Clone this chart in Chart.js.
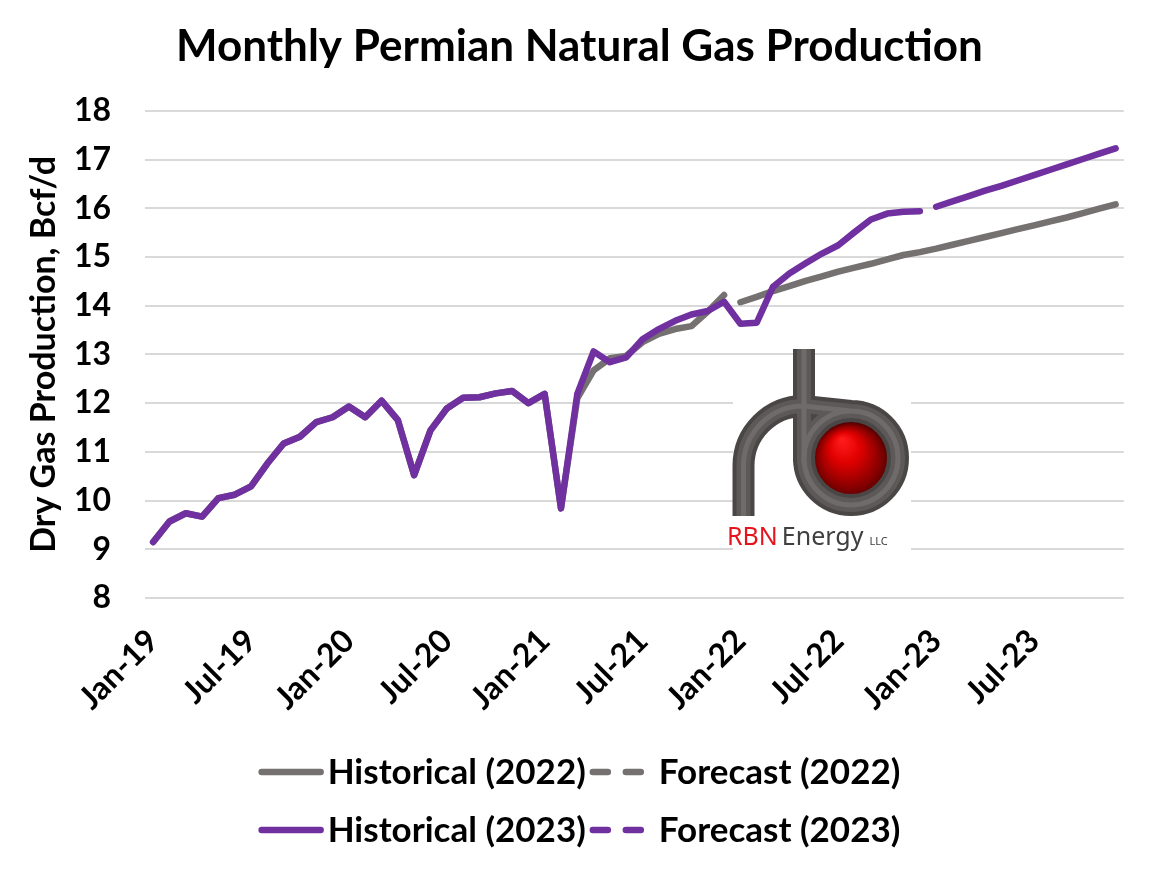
<!DOCTYPE html>
<html>
<head>
<meta charset="utf-8">
<script src="https://cdn.jsdelivr.net/npm/chart.js@4.4.1/dist/chart.umd.min.js"></script>
<style>
html,body{margin:0;padding:0;background:#ffffff;}
#wrap{width:1159px;height:871px;position:relative;}
</style>
</head>
<body>
<div id="wrap"><canvas id="c" width="1159" height="871"></canvas></div>
<script>
// ---------- DATA ----------
const categories = [
  'Jan-19','Feb-19','Mar-19','Apr-19','May-19','Jun-19','Jul-19','Aug-19','Sep-19','Oct-19','Nov-19','Dec-19',
  'Jan-20','Feb-20','Mar-20','Apr-20','May-20','Jun-20','Jul-20','Aug-20','Sep-20','Oct-20','Nov-20','Dec-20',
  'Jan-21','Feb-21','Mar-21','Apr-21','May-21','Jun-21','Jul-21','Aug-21','Sep-21','Oct-21','Nov-21','Dec-21',
  'Jan-22','Feb-22','Mar-22','Apr-22','May-22','Jun-22','Jul-22','Aug-22','Sep-22','Oct-22','Nov-22','Dec-22',
  'Jan-23','Feb-23','Mar-23','Apr-23','May-23','Jun-23','Jul-23','Aug-23','Sep-23','Oct-23','Nov-23','Dec-23'
];
const tickLabels = ['Jan-19','Jul-19','Jan-20','Jul-20','Jan-21','Jul-21','Jan-22','Jul-22','Jan-23','Jul-23'];

// Historical (2022 vintage): Jan-19 .. Dec-21
const historical2022 = [
  9.15, 9.57, 9.74, 9.67, 10.05, 10.12, 10.29, 10.76, 11.17, 11.31, 11.61, 11.71,
  11.93, 11.71, 12.05, 11.65, 10.52, 11.44, 11.89, 12.11, 12.12, 12.20, 12.25, 12.00,
  12.19, 9.84, 12.10, 12.67, 12.92, 12.97, 13.25, 13.42, 13.52, 13.58, 13.88, 14.22
];
// Forecast (2022 vintage): Jan-22 .. Dec-23
const forecast2022 = [
  14.07, 14.18, 14.30, 14.40, 14.51, 14.60, 14.70, 14.78, 14.86, 14.95, 15.04, 15.10,
  15.17, 15.25, 15.33, 15.41, 15.49, 15.57, 15.65, 15.73, 15.81, 15.90, 15.99, 16.08
];
// Historical (2023 vintage): Jan-19 .. Dec-22
const historical2023 = [
  9.15, 9.57, 9.74, 9.67, 10.05, 10.12, 10.29, 10.76, 11.17, 11.31, 11.61, 11.71,
  11.93, 11.71, 12.05, 11.65, 10.52, 11.44, 11.89, 12.11, 12.12, 12.20, 12.25, 12.00,
  12.19, 9.84, 12.19, 13.06, 12.84, 12.94, 13.31, 13.52, 13.69, 13.82, 13.89, 14.08,
  13.63, 13.65, 14.39, 14.66, 14.87, 15.07, 15.24, 15.51, 15.77, 15.89, 15.93, 15.94
];
// Forecast (2023 vintage): Jan-23 .. Dec-23
const forecast2023 = [
  16.03, 16.14, 16.25, 16.36, 16.46, 16.57, 16.68, 16.79, 16.90, 17.01, 17.12, 17.23
];
const seriesLabels = ['Historical (2022)', 'Forecast (2022)', 'Historical (2023)', 'Forecast (2023)'];
const yMin = 8, yMax = 18, yStep = 1;

// ---------- helpers ----------
const GRAY = '#767171';
const PURPLE = '#7030A0';
const FONT = 'Lato';
function nulls(n){ return new Array(n).fill(null); }
const N = categories.length;

// ---------- custom legend (2 x 2 grid, like the original) ----------
const gridLegend = {
  id: 'gridLegend',
  afterDraw(chart) {
    const ctx = chart.ctx;
    const ds = chart.data.datasets;
    const rows = [[0, 1], [2, 3]];
    const rowY = [772, 830];
    const sample = 65, gap = 4;
    ctx.save();
    ctx.font = 'bold 35px ' + FONT;
    const w0 = Math.max(...rows.map(r => ctx.measureText(ds[r[0]].label).width));
    const w1 = Math.max(...rows.map(r => ctx.measureText(ds[r[1]].label).width));
    const total = sample + gap + w0 + gap + sample + gap + w1;
    const x0 = chart.width / 2 - total / 2;
    const xs = [x0, x0 + sample + gap + w0 + gap];
    rows.forEach((r, ri) => {
      r.forEach((di, ci) => {
        const d = ds[di];
        const x = xs[ci], y = rowY[ri];
        ctx.beginPath();
        ctx.lineWidth = 6.5;
        ctx.lineCap = 'round';
        ctx.strokeStyle = d.borderColor;
        ctx.setLineDash(d.legendDash || []);
        ctx.moveTo(x + 3, y);
        ctx.lineTo(x + sample - 3, y);
        ctx.stroke();
        ctx.setLineDash([]);
        ctx.fillStyle = '#000000';
        ctx.textBaseline = 'alphabetic';
        ctx.textAlign = 'left';
        ctx.fillText(d.label, x + sample + gap, y + 12);
      });
    });
    ctx.restore();
  }
};

// ---------- logo (decoration) ----------
const logoPlugin = {
  id: 'rbnLogo',
  beforeDatasetsDraw(chart) {
    const ctx = chart.ctx;
    ctx.save();
    ctx.fillStyle = '#ffffff';
    ctx.fillRect(733, 380, 178, 175);
    const cx = 851, cy = 458, r = 47;
    // red sphere
    const g = ctx.createRadialGradient(842, 440, 2, cx, cy + 4, 40);
    g.addColorStop(0, '#ff1a1a');
    g.addColorStop(0.35, '#e00000');
    g.addColorStop(0.75, '#8a0000');
    g.addColorStop(1, '#4a0000');
    ctx.fillStyle = g;
    ctx.beginPath(); ctx.arc(cx, cy, 38, 0, Math.PI * 2); ctx.fill();
    // pipes
    const pipe = (w, col) => {
      ctx.lineWidth = w; ctx.strokeStyle = col; ctx.lineCap = 'butt'; ctx.lineJoin = 'round';
      ctx.beginPath();
      ctx.moveTo(743.5, 516); ctx.lineTo(743.5, 466);
      ctx.arc(803.5, 466, 60, Math.PI, Math.PI * 1.5);
      ctx.lineTo(cx, cy - r);
      ctx.arc(cx, cy, r, -Math.PI / 2, Math.PI * 1.5);
      ctx.stroke();
      ctx.beginPath(); ctx.moveTo(cx - r, 349); ctx.lineTo(cx - r, cy + 4); ctx.stroke();
    };
    pipe(22, '#4a4646');
    pipe(14, '#5d5959');
    pipe(5, '#6f6b6b');
    // text
    ctx.textBaseline = 'alphabetic'; ctx.textAlign = 'left';
    ctx.font = '25px "Noto Sans"';
    ctx.fillStyle = '#e3141b';
    ctx.fillText('RBN', 727, 545);
    let x = 727 + ctx.measureText('RBN').width + 4;
    ctx.fillStyle = '#404040';
    ctx.fillText('Energy', x, 545);
    x += ctx.measureText('Energy').width + 6;
    ctx.font = '11px "Noto Sans"';
    ctx.fillText('LLC', x, 545);
    ctx.restore();
  }
};

Chart.defaults.font.family = FONT;
Chart.defaults.color = '#000000';

new Chart(document.getElementById('c'), {
  type: 'line',
  data: {
    labels: categories,
    datasets: [
      { label: seriesLabels[0], data: historical2022.concat(nulls(N - historical2022.length)),
        borderColor: GRAY, order: 2, legendDash: [] },
      { label: seriesLabels[1], data: nulls(N - forecast2022.length).concat(forecast2022),
        borderColor: GRAY, order: 2, legendDash: [15, 18] },
      { label: seriesLabels[2], data: historical2023.concat(nulls(N - historical2023.length)),
        borderColor: PURPLE, order: 1, legendDash: [] },
      { label: seriesLabels[3], data: nulls(N - forecast2023.length).concat(forecast2023),
        borderColor: PURPLE, order: 1, legendDash: [15, 18] }
    ]
  },
  options: {
    responsive: false,
    animation: false,
    devicePixelRatio: 1,
    layout: { padding: { left: 0, right: 0, top: 0, bottom: 153 } },
    elements: {
      line: { borderWidth: 6.5, borderCapStyle: 'round', borderJoinStyle: 'round', tension: 0, fill: false },
      point: { radius: 0, hoverRadius: 0 }
    },
    plugins: {
      legend: { display: false },
      tooltip: { enabled: false },
      title: {
        display: true,
        text: 'Monthly Permian Natural Gas Production',
        color: '#000000',
        font: { size: 44, weight: 'bold', family: FONT },
        padding: { top: 20, bottom: 38 }
      }
    },
    scales: {
      x: {
        type: 'category',
        offset: true,
        grid: { display: false },
        border: { display: false },
        ticks: {
          autoSkip: false,
          maxRotation: 45,
          minRotation: 45,
          padding: 16,
          color: '#000000',
          font: { size: 32, weight: 'bold', family: FONT },
          callback: function(value, index) {
            const l = categories[index];
            return tickLabels.includes(l) ? l : '';
          }
        },
        afterFit(scale) { scale.height = 120; }
      },
      y: {
        min: yMin, max: yMax,
        grid: { color: '#d9d9d9', lineWidth: 2, drawTicks: false },
        border: { display: false },
        ticks: {
          stepSize: yStep,
          padding: 34,
          color: '#000000',
          font: { size: 32, weight: 'bold', family: FONT }
        },
        title: {
          display: true,
          text: 'Dry Gas Production, Bcf/d',
          color: '#000000',
          font: { size: 34, weight: 'bold', family: FONT },
          padding: { top: 24, bottom: 0 }
        },
        afterFit(scale) { scale.width = 145; }
      },
      yRight: {
        position: 'right',
        display: true,
        min: yMin, max: yMax,
        grid: { display: false, drawOnChartArea: false },
        border: { display: false },
        ticks: { display: false },
        afterFit(scale) { scale.width = 30; }
      }
    }
  },
  plugins: [logoPlugin, gridLegend]
});
</script>
</body>
</html>
